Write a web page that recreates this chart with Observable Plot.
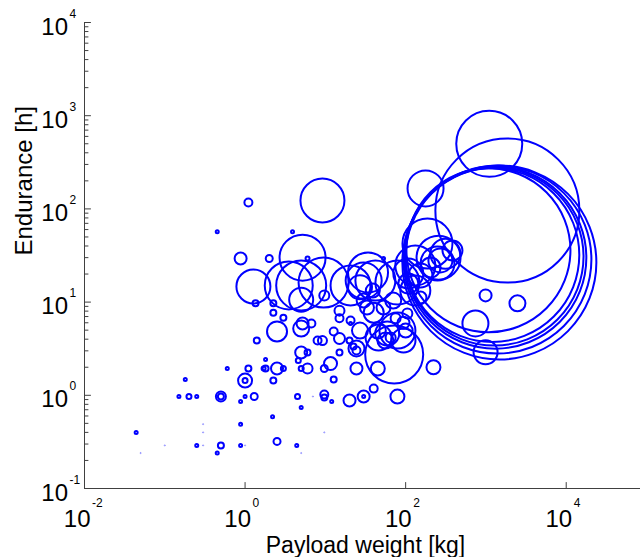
<!DOCTYPE html>
<html>
<head>
<meta charset="utf-8">
<script src="https://cdn.jsdelivr.net/npm/d3@7"></script>
<script src="https://cdn.jsdelivr.net/npm/@observablehq/plot@0.6"></script>
<style>
  html, body { margin: 0; padding: 0; background: #fff; }
  #chart svg { display: block; }
</style>
</head>
<body>
<div id="chart"></div>
<script>
// Payload weight [kg], endurance [h], and a size variable (span, m) for each vehicle
const payload = [
  1100, 1850, 1075, 1200, 1310, 1390, 1470, 1280, 177, 187,
  257, 249, 271, 204, 108, 990, 2470, 740, 990, 222,
  72, 79, 40, 30, 30, 20, 45, 24.4, 9.2, 1.1,
  0.45, 3.9, 5.2, 0.88, 2.0, 6.0, 1.27, 3.5, 5.0, 9.5,
  20.6, 42, 34, 79, 9.7, 5.0, 1.35, 2.25, 3.0, 2.5,
  5.0, 5.2, 6.7, 1.4, 8.0, 9.2, 12.7, 15, 20, 5.0,
  6.0, 15, 24.4, 24.4, 22.4, 4.6, 1.8, 0.6, 1.1, 1.8,
  1.7, 2.5, 3.0, 5.0, 6.0, 9.7, 11.6, 12.7, 1.0, 1.0,
  2.25, 0.18, 0.15, 0.2, 0.25, 0.5, 0.5, 0.88, 1.0, 1.3,
  4.5, 7.0, 9.7, 9.7, 12, 5.0, 2.2, 0.88, 0.3, 0.044,
  0.3, 9.7, 2.5, 0.25, 0.5, 0.88, 0.1, 4.4, 0.3, 1.0,
  0.45, 0.05, 5.0, 15, 15, 20.6, 20.6, 27, 45, 59,
  79, 53, 94, 108, 153, 30, 40, 39, 27, 30,
  53, 70, 105, 100, 94, 56, 65, 33, 46, 75,
  132, 153, 132, 313, 383, 2.25
];
const endurance = [
  500, 96, 36, 32, 30, 28.6, 26.6, 30.8, 166, 42.5,
  30, 26, 28, 23.5, 20.3, 11.8, 9.7, 5.9, 2.9, 2.0,
  2.74, 0.97, 1.18, 0.97, 0.97, 0.88, 1.94, 1.94, 123, 117,
  57, 57, 30, 29.4, 29.4, 29.4, 14.7, 15.1, 15.1, 16.2,
  15.1, 17, 20.8, 16.2, 11.8, 10.6, 9.7, 7.7, 6.8, 4.84,
  5.2, 5.9, 5.9, 3.87, 3.87, 3.87, 4.84, 4.07, 3.87, 2.88,
  2.88, 2.88, 3.18, 3.03, 3.34, 2.36, 2.42, 1.94, 1.94, 1.94,
  1.94, 1.94, 1.94, 1.94, 1.94, 1.94, 2.19, 1.48, 1.44, 1.44,
  1.44, 1.48, 0.97, 0.97, 0.97, 0.97, 0.97, 0.86, 0.97, 0.97,
  0.97, 0.97, 1.02, 0.95, 0.86, 0.74, 0.59, 0.49, 0.49, 0.40,
  0.40, 0.40, 0.32, 0.29, 0.29, 0.29, 0.29, 0.29, 0.29, 0.29,
  0.24, 0.24, 0.24, 8.1, 6.7, 5.9, 6.35, 4.95, 4.95, 4.6,
  4.95, 8.75, 6.0, 15.8, 11.2, 10.4, 7.7, 13.3, 14.4, 17,
  29.4, 10.4, 7.55, 4.95, 3.87, 3.87, 4.17, 8.75, 4.17, 6.7,
  13.3, 19.3, 24.7, 33, 35.8, 9.7
];
const span = [
  16.5, 36, 41, 43.5, 45.5, 47, 48.5, 44.5, 9, 12.5,
  11, 8.5, 6, 5, 7.5, 3, 4, 6.5, 6, 3.5,
  14.5, 3.5, 2, 3, 0.75, 3, 3.5, 3, 11, 2,
  0.75, 0.75, 11.5, 3, 1.75, 1, 8.5, 12, 12.5, 12.5,
  10, 10, 10, 11, 2.5, 6, 1.5, 1.5, 1.5, 5,
  4, 3, 2, 1.5, 2, 2.25, 2, 2.75, 1.5, 3,
  1.5, 1.5, 4, 2, 1.5, 1.25, 0.75, 0.75, 1.5, 1.5,
  1, 3, 1.25, 1.25, 2.5, 1.75, 3.25, 1.5, 3.5, 1.25,
  1.5, 0.75, 0.75, 1.25, 0.75, 2.5, 1.5, 0.75, 0.75, 1.75,
  1.25, 0.3, 2, 1.5, 0.75, 0.75, 0.75, 0.75, 0.3, 0.75,
  0.3, 0.3, 1.75, 0.75, 1.5, 0.75, 0.3, 0.75, 0.3, 0.3,
  0.75, 0.3, 0.3, 2.5, 2, 0.75, 2, 4, 4, 6,
  9, 3.5, 3, 5, 3, 3.5, 5, 3.5, 6, 9,
  0.75, 4, 2.5, 3.5, 6, 4, 2.5, 3.5, 6.5, 2.5,
  7.5, 6, 10, 7.5, 5, 1.5
];

const yTicks = [0.1, 1, 10, 100, 1000, 10000];
const yTickExp = ["-1", "0", "1", "2", "3", "4"];
const xTicks = [0.01, 1, 100, 10000];
const xTickExp = ["-2", "0", "2", "4"];

const yMinor = [];
for (let e = -1; e < 4; e++) for (let k = 2; k <= 9; k++) yMinor.push(k * Math.pow(10, e));

const data = payload.map((p, i) => ({payload: p, endurance: endurance[i], span: span[i]}));

const tickShape = {draw(context, l) { context.moveTo(0, 0); context.lineTo(0, -l); }};
const axisColor = "#404040";
const blue = "#0000ff";

const chart = Plot.plot({
  width: 640,
  height: 557,
  marginLeft: 84,
  marginRight: -6,
  marginTop: 22,
  marginBottom: 69,
  x: {type: "log", domain: [1e-2, 1e5], axis: null},
  y: {type: "log", domain: [1e-1, 1e4], axis: null},
  r: {type: "linear", domain: [0, 50], range: [0, 100]},
  style: {fontFamily: "'Liberation Sans', Arial, Helvetica, sans-serif", background: "#fff", overflow: "visible"},
  marks: [
    Plot.dot(data, {filter: d => d.span >= 0.5, x: "payload", y: "endurance", r: "span", stroke: blue, strokeWidth: 2, fill: "none"}),
    Plot.dot(data, {filter: d => d.span < 0.5, x: "payload", y: "endurance", r: "span", stroke: blue, strokeWidth: 1, strokeOpacity: 0.35, fill: "none"}),
    Plot.frame({anchor: "left", stroke: axisColor}),
    Plot.frame({anchor: "bottom", stroke: axisColor}),
    Plot.vector(yTicks, {y: d => d, frameAnchor: "left", length: 6, rotate: 90, anchor: "start", shape: tickShape, stroke: axisColor, strokeWidth: 1}),
    Plot.vector(yMinor, {y: d => d, frameAnchor: "left", length: 3.5, rotate: 90, anchor: "start", shape: tickShape, stroke: axisColor, strokeWidth: 1}),
    Plot.vector(xTicks, {x: d => d, frameAnchor: "bottom", length: 6, rotate: 0, anchor: "start", shape: tickShape, stroke: axisColor, strokeWidth: 1}),
    Plot.text(yTicks, {y: d => d, frameAnchor: "left", text: () => "10", textAnchor: "end", lineAnchor: "bottom", dx: -16.5, dy: 12, fontSize: 24, fill: "#000"}),
    Plot.text(yTicks, {y: d => d, frameAnchor: "left", text: (d, i) => yTickExp[i], textAnchor: "start", lineAnchor: "bottom", dx: -15, dy: -5, fontSize: 12, fill: "#000"}),
    Plot.text(xTicks, {x: d => d, frameAnchor: "bottom", text: () => "10", textAnchor: "end", lineAnchor: "bottom", dx: 6, dy: 38, fontSize: 24, fill: "#000"}),
    Plot.text(xTicks, {x: d => d, frameAnchor: "bottom", text: (d, i) => xTickExp[i], textAnchor: "start", lineAnchor: "bottom", dx: 7.5, dy: 18, fontSize: 12, fill: "#000"}),
    Plot.text(["Endurance [h]"], {text: d => d, frameAnchor: "left", rotate: -90, lineAnchor: "bottom", dx: -53, fontSize: 24, fill: "#000"}),
    Plot.text(["Payload weight [kg]"], {text: d => d, frameAnchor: "bottom", lineAnchor: "bottom", dy: 64, fontSize: 23, fill: "#000"})
  ]
});
document.getElementById("chart").appendChild(chart);
</script>
</body>
</html>
